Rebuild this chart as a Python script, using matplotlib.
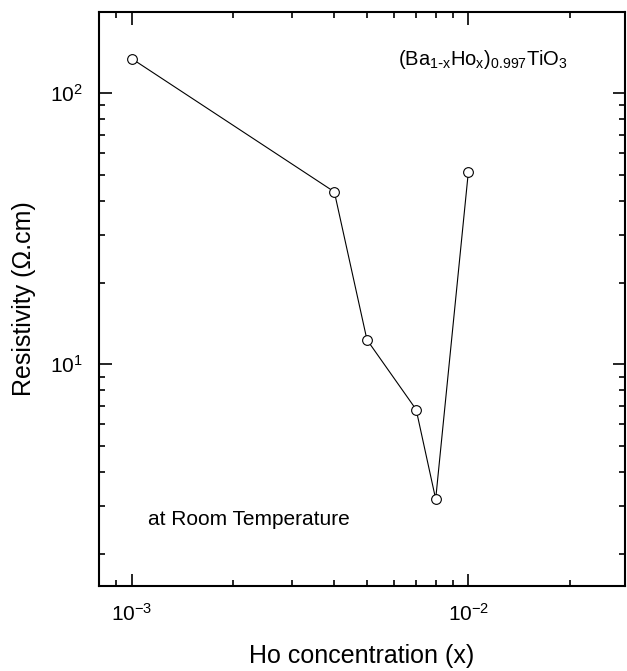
import matplotlib
matplotlib.use("Agg")
import matplotlib.pyplot as plt
from matplotlib.ticker import LogLocator, NullFormatter

plt.rcParams['font.family'] = ['Liberation Sans', 'DejaVu Sans']
plt.rcParams['mathtext.default'] = 'regular'
plt.rcParams['axes.unicode_minus'] = False

ho_conc = [0.001, 0.004, 0.005, 0.007, 0.008, 0.010]
resistivity = [134, 43.2, 12.3, 6.8, 3.18, 51]

fig = plt.figure(figsize=(6.27, 6.71), dpi=100)
ax = fig.add_axes([99/627, 85/671, 526/627, 574/671])

ax.plot(ho_conc, resistivity, '-', color='black', linewidth=0.8,
        marker='o', markersize=7, markerfacecolor='white',
        markeredgecolor='black', markeredgewidth=0.8)

ax.set_xscale('log')
ax.set_yscale('log')
ax.set_xlim(0.0008, 0.0292)
ax.set_ylim(1.52, 199)

ax.xaxis.set_major_locator(LogLocator(base=10, numticks=10))
ax.xaxis.set_minor_locator(LogLocator(base=10, subs=range(2, 10), numticks=10))
ax.yaxis.set_major_locator(LogLocator(base=10, numticks=10))
ax.yaxis.set_minor_locator(LogLocator(base=10, subs=range(2, 10), numticks=10))
ax.xaxis.set_minor_formatter(NullFormatter())
ax.yaxis.set_minor_formatter(NullFormatter())

ax.tick_params(which='both', direction='in', top=True, right=True, labelsize=15,
               width=1.2, color='black')
ax.tick_params(which='major', length=9, pad=12)
ax.tick_params(which='minor', length=4)
for s in ax.spines.values():
    s.set_linewidth(1.5)

ax.set_xlabel('Ho concentration (x)', fontsize=18, labelpad=14)
ax.set_ylabel('Resistivity (Ω.cm)', fontsize=18, labelpad=10)

ax.text(0.568, 0.908, r'$(Ba_{1\text{-}x}Ho_x)_{0.997}TiO_3$', transform=ax.transAxes,
        fontsize=14.5, va='baseline', ha='left')
ax.text(0.093, 0.106, 'at Room Temperature', transform=ax.transAxes,
        fontsize=15, va='baseline', ha='left')

fig.savefig('out.png', dpi=100)
